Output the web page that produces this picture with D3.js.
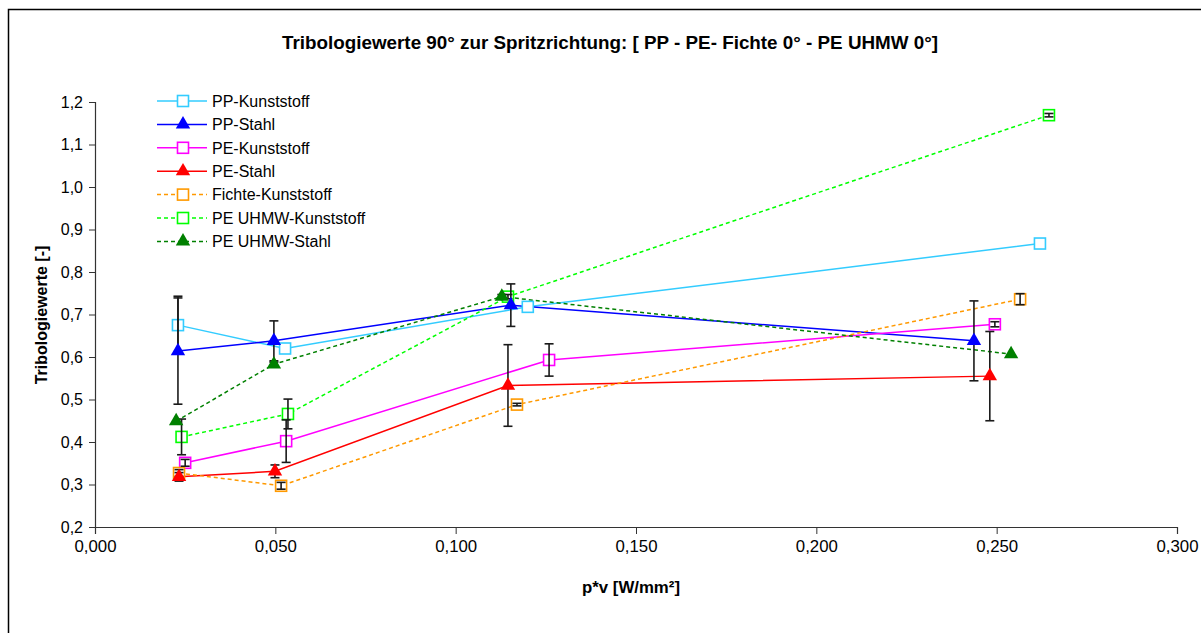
<!DOCTYPE html>
<html>
<head>
<meta charset="utf-8">
<script src="https://cdn.jsdelivr.net/npm/d3@7"></script>
<style>
  body { margin: 0; background: #fff; }
  text { font-family: Arial, "Liberation Sans", sans-serif; }
</style>
</head>
<body>
<svg id="chart" width="1201" height="633"></svg>
<script>
// ---- data ----
const seriesNames = ["PP-Kunststoff", "PP-Stahl", "PE-Kunststoff", "PE-Stahl",
                     "Fichte-Kunststoff", "PE UHMW-Kunststoff", "PE UHMW-Stahl"];

const ppKunststoffX   = [0.0230, 0.0527, 0.1200, 0.2620];
const ppKunststoffY   = [0.675, 0.620, 0.718, 0.867];
const ppKunststoffErr = [0.068, 0.000, 0.000, 0.000];

const ppStahlX   = [0.0230, 0.0496, 0.1153, 0.2437];
const ppStahlY   = [0.614, 0.638, 0.722, 0.638];
const ppStahlErr = [0.125, 0.047, 0.050, 0.094];

const peKunststoffX   = [0.0250, 0.0530, 0.1259, 0.2495];
const peKunststoffY   = [0.351, 0.402, 0.593, 0.677];
const peKunststoffErr = [0.008, 0.050, 0.038, 0.006];

const peStahlX   = [0.0233, 0.0499, 0.1145, 0.2481];
const peStahlY   = [0.318, 0.331, 0.533, 0.555];
const peStahlErr = [0.010, 0.015, 0.096, 0.105];

const fichteX   = [0.0233, 0.0516, 0.1170, 0.2565];
const fichteY   = [0.327, 0.297, 0.488, 0.736];
const fichteErr = [0.008, 0.008, 0.003, 0.013];

const uhmwKunststoffX   = [0.0240, 0.0535, 0.1145, 0.2645];
const uhmwKunststoffY   = [0.412, 0.466, 0.742, 1.169];
const uhmwKunststoffErr = [0.042, 0.035, 0.005, 0.004];

const uhmwStahlX   = [0.0225, 0.0496, 0.1128, 0.2540];
const uhmwStahlY   = [0.449, 0.583, 0.742, 0.607];
const uhmwStahlErr = [0.000, 0.005, 0.005, 0.000];

const xTicks = [0, 0.05, 0.10, 0.15, 0.20, 0.25, 0.30];
const yTicks = [0.2, 0.3, 0.4, 0.5, 0.6, 0.7, 0.8, 0.9, 1.0, 1.1, 1.2];

const titleText = "Tribologiewerte 90° zur Spritzrichtung: [ PP - PE- Fichte 0° - PE UHMW 0°]";
const xTitle = "p*v [W/mm²]";
const yTitle = "Tribologiewerte  [-]";

// ---- series table (data + appearance) ----
const zip = (xs, ys, es) => xs.map((v, i) => ({ x: v, y: ys[i], e: es[i] }));
const series = [
  { name: seriesNames[0], pts: zip(ppKunststoffX, ppKunststoffY, ppKunststoffErr), color: "#33CCFF", marker: "square",   dash: null },
  { name: seriesNames[1], pts: zip(ppStahlX, ppStahlY, ppStahlErr),                color: "#0000FF", marker: "triangle", dash: null },
  { name: seriesNames[2], pts: zip(peKunststoffX, peKunststoffY, peKunststoffErr), color: "#FF00FF", marker: "square",   dash: null },
  { name: seriesNames[3], pts: zip(peStahlX, peStahlY, peStahlErr),                color: "#FF0000", marker: "triangle", dash: null },
  { name: seriesNames[4], pts: zip(fichteX, fichteY, fichteErr),                   color: "#FF9900", marker: "square",   dash: "4,3" },
  { name: seriesNames[5], pts: zip(uhmwKunststoffX, uhmwKunststoffY, uhmwKunststoffErr), color: "#00FF00", marker: "square", dash: "4,3" },
  { name: seriesNames[6], pts: zip(uhmwStahlX, uhmwStahlY, uhmwStahlErr),          color: "#008000", marker: "triangle", dash: "4,3" }
];

// ---- layout ----
const svg = d3.select("#chart");
const fontSize = 16;

svg.append("rect")
  .attr("x", 8.5).attr("y", 9.5).attr("width", 1300).attr("height", 700)
  .attr("fill", "#fff").attr("stroke", "#000").attr("stroke-width", 1.5);

const x = d3.scaleLinear().domain([0, 0.3]).range([95, 1177]);
const y = d3.scaleLinear().domain([0.2, 1.2]).range([527, 102]);

const de = d3.formatLocale({ decimal: ",", thousands: ".", grouping: [3], currency: ["", " €"] });

// axes
const yAxis = svg.append("g").attr("transform", `translate(${x(0)},0)`)
  .call(d3.axisLeft(y).tickValues(yTicks).tickFormat(de.format(".1f"))
        .tickSizeOuter(0).tickSize(6).tickPadding(6));
const xAxis = svg.append("g").attr("transform", `translate(0,${y(0.2)})`)
  .call(d3.axisBottom(x).tickValues(xTicks).tickFormat(de.format(".3f"))
        .tickSizeOuter(0).tickSize(7).tickPadding(7));
[yAxis, xAxis].forEach(g => {
  g.select(".domain").attr("stroke", "#333").attr("stroke-width", 1.2);
  g.selectAll(".tick line").attr("stroke", "#333").attr("stroke-width", 1);
  g.selectAll(".tick text").attr("fill", "#000")
    .style("font-size", fontSize + "px").style("font-family", "Arial, 'Liberation Sans', sans-serif");
});
xAxis.selectAll(".tick text").attr("textLength", 42).attr("lengthAdjust", "spacingAndGlyphs");

// titles
svg.append("text").attr("x", 610).attr("y", 49).attr("text-anchor", "middle")
  .attr("textLength", 656).attr("lengthAdjust", "spacingAndGlyphs")
  .style("font-size", "18px").style("font-weight", "bold").text(titleText);
svg.append("text").attr("x", 631).attr("y", 593).attr("text-anchor", "middle")
  .attr("textLength", 98).attr("lengthAdjust", "spacingAndGlyphs")
  .style("font-size", "17px").style("font-weight", "bold").text(xTitle);
svg.append("text").attr("transform", "translate(47,315) rotate(-90)").attr("text-anchor", "middle")
  .style("font-size", fontSize + "px").style("font-weight", "bold").text(yTitle);

// marker helpers
const triPath = d3.symbol(d3.symbolTriangle, 90)();
function drawMarker(g, s, px, py) {
  if (s.marker === "square") {
    g.append("rect").attr("x", px - 5.5).attr("y", py - 5.5).attr("width", 11).attr("height", 11)
      .attr("fill", "#fff").attr("stroke", s.color).attr("stroke-width", 1.6);
  } else {
    g.append("path").attr("d", triPath).attr("transform", `translate(${px},${py})`)
      .attr("fill", s.color);
  }
}

const line = d3.line().x(d => x(d.x)).y(d => y(d.y));

// series lines
const plot = svg.append("g");
series.forEach(s => {
  plot.append("path").datum(s.pts).attr("d", line)
    .attr("fill", "none").attr("stroke", s.color).attr("stroke-width", 1.5)
    .attr("stroke-dasharray", s.dash);
});

// open square markers
const sqLayer = svg.append("g");
series.filter(s => s.marker === "square").forEach(s => {
  s.pts.forEach(p => drawMarker(sqLayer, s, x(p.x), y(p.y)));
});

// error bars
const errLayer = svg.append("g").attr("stroke", "#1a1a1a").attr("stroke-width", 1.6);
series.forEach(s => {
  s.pts.filter(p => p.e > 0).forEach(p => {
    const cx = x(p.x), y1 = y(p.y + p.e), y2 = y(p.y - p.e);
    errLayer.append("line").attr("x1", cx).attr("x2", cx).attr("y1", y1).attr("y2", y2);
    errLayer.append("line").attr("x1", cx - 4.5).attr("x2", cx + 4.5).attr("y1", y1).attr("y2", y1);
    errLayer.append("line").attr("x1", cx - 4.5).attr("x2", cx + 4.5).attr("y1", y2).attr("y2", y2);
  });
});

// filled triangle markers
const triLayer = svg.append("g");
series.filter(s => s.marker === "triangle").forEach(s => {
  s.pts.forEach(p => drawMarker(triLayer, s, x(p.x), y(p.y)));
});

// legend
const legend = svg.append("g");
series.forEach((s, i) => {
  const ly = 101 + i * 23.4;
  legend.append("line").attr("x1", 157).attr("x2", 207).attr("y1", ly).attr("y2", ly)
    .attr("stroke", s.color).attr("stroke-width", 1.5).attr("stroke-dasharray", s.dash);
  drawMarker(legend, s, 183, ly);
  legend.append("text").attr("x", 212).attr("y", ly).attr("dy", "0.36em")
    .style("font-size", fontSize + "px").text(s.name);
});
</script>
</body>
</html>
